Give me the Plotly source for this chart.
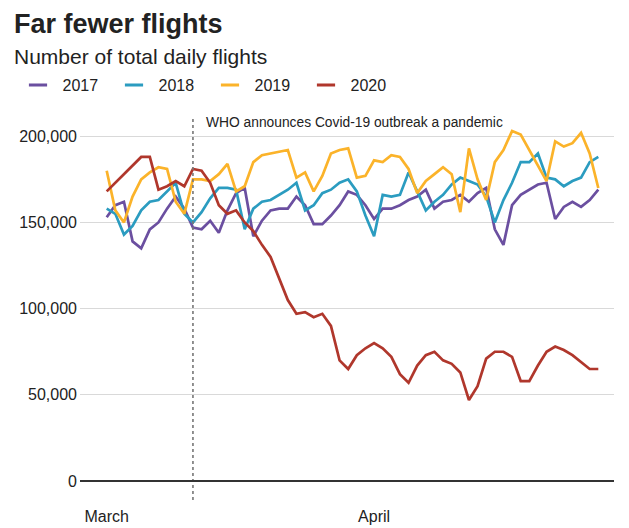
import pandas as pd
import plotly.graph_objects as go

# ---- data (thousands of daily flights), 1 March .. 27 April ----
start_date = "2020-03-01"
n_days = 58
who_date = "2020-03-11"
who_text = "WHO announces Covid-19 outbreak a pandemic"

years = ["2017", "2018", "2019", "2020"]

flights_2017 = [153, 160, 162, 139, 135, 146, 150, 158, 165, 158, 147, 146, 151, 144, 157, 167, 170, 142,
                151, 157, 158, 158, 165, 160, 149, 149, 154, 160, 168, 166, 160, 152, 158, 158, 160, 163,
                165, 169, 158, 162, 163, 166, 162, 167, 170, 146, 137, 160, 166, 169, 172, 173, 152, 159,
                162, 159, 163, 169]
flights_2018 = [158, 155, 143, 148, 157, 162, 163, 168, 173, 155, 150, 156, 164, 170, 170, 169, 146, 158,
                162, 163, 166, 169, 173, 157, 160, 167, 169, 173, 175, 168, 154, 142, 166, 165, 166, 179,
                168, 157, 162, 166, 172, 176, 174, 172, 165, 150, 163, 173, 185, 185, 190, 176, 175, 171,
                174, 176, 185, 188]
flights_2019 = [180, 157, 150, 165, 175, 179, 182, 181, 162, 155, 175, 175, 174, 178, 184, 168, 171, 185,
                189, 190, 191, 192, 176, 179, 168, 177, 190, 192, 193, 176, 177, 186, 185, 189, 188, 181,
                167, 174, 178, 182, 178, 156, 193, 175, 163, 185, 192, 203, 201, 192, 183, 174, 197, 194,
                196, 202, 190, 170]
flights_2020 = [168, 173, 178, 183, 188, 188, 169, 171, 174, 171, 181, 180, 173, 160, 155, 157, 150, 145,
                137, 130, 118, 105, 97, 98, 95, 97, 90, 70, 65, 73, 77, 80, 77, 72, 62, 57,
                67, 73, 75, 70, 68, 63, 47, 55, 71, 75, 75, 72, 58, 58, 67, 75, 78, 76,
                73, 69, 65, 65]

y_ticks = [0, 50000, 100000, 150000, 200000]
y_tick_labels = ["0", "50,000", "100,000", "150,000", "200,000"]
x_ticks = ["2020-03-01", "2020-04-01"]
x_tick_labels = ["March", "April"]

colors = ["#6B4FA0", "#2B9CC0", "#FBB32A", "#B0372C"]

# ---- geometry (page pixels; the page body adds an 8px offset) ----
W, H = 629, 528
OFF = 8
P_LEFT, P_RIGHT, P_TOP, P_BOTTOM = 80, 614, 119, 500
ML = P_LEFT - OFF
MT = P_TOP - OFF
MR = W - (P_RIGHT - OFF)
MB = H - (P_BOTTOM - OFF)
PW = P_RIGHT - P_LEFT
PH = P_BOTTOM - P_TOP


def px_x(px):
    return (px - P_LEFT) / PW


def px_y(py):
    return (P_BOTTOM - py) / PH


dates = pd.date_range(start_date, periods=n_days, freq="D")
series = [flights_2017, flights_2018, flights_2019, flights_2020]
FONT = "Liberation Sans, Arial, Helvetica, sans-serif"

fig = go.Figure()
for yr, vals, col in zip(years, series, colors):
    fig.add_trace(go.Scatter(
        x=dates, y=[v * 1000 for v in vals], mode="lines", name=yr,
        line=dict(color=col, width=2.7), showlegend=False,
    ))
# legend entries (short dash symbols)
for yr, col in zip(years, colors):
    fig.add_trace(go.Scatter(
        x=[None], y=[None], mode="markers", name=yr,
        marker=dict(symbol="line-ew", size=13, color=col, line=dict(color=col, width=3)),
        showlegend=True,
    ))

# WHO vertical dotted line
fig.add_shape(type="line", xref="x", yref="paper", x0=who_date, x1=who_date, y0=0, y1=1,
              line=dict(color="#777777", width=1.6, dash="dot"), layer="above")

x_lo = pd.Timestamp(start_date) - pd.Timedelta(minutes=int(3.096 * 1440))
x_hi = pd.Timestamp(start_date) + pd.Timedelta(minutes=int(58.82 * 1440))

fig.update_layout(
    width=W, height=H,
    margin=dict(l=ML, r=MR, t=MT, b=MB),
    paper_bgcolor="white", plot_bgcolor="white",
    font=dict(family=FONT, color="#222222", size=16),
    showlegend=True,
    legend=dict(orientation="h", xref="container", yref="container",
                x=5.5 / W, y=1 - (85 - OFF) / H, xanchor="left", yanchor="middle",
                font=dict(size=16, color="#222222"), entrywidth=42, itemwidth=39,
                bgcolor="rgba(0,0,0,0)"),
    xaxis=dict(range=[x_lo, x_hi], showgrid=False, zeroline=False, showline=False,
               tickvals=x_ticks, ticktext=x_tick_labels, ticks="", ticklabelstandoff=5,
               tickfont=dict(size=16, color="#222222")),
    yaxis=dict(range=[-11000, 210000], tickvals=y_ticks, ticktext=y_tick_labels,
               showgrid=True, gridcolor="#d9d9d9", gridwidth=1.2, zeroline=False,
               showline=False, ticks="", ticklabelstandoff=2,
               tickfont=dict(size=16, color="#222222")),
    hovermode=False,
)

# zero baseline
fig.add_hline(y=0, line=dict(color="#333333", width=2))

fig.add_annotation(xref="paper", yref="paper", x=px_x(12), y=px_y(24),
                   xanchor="left", yanchor="middle", showarrow=False,
                   text="<b>Far fewer flights</b>", font=dict(size=27, color="#222222"))
fig.add_annotation(xref="paper", yref="paper", x=px_x(12), y=px_y(56),
                   xanchor="left", yanchor="middle", showarrow=False,
                   text="Number of total daily flights", font=dict(size=21, color="#222222"))
fig.add_annotation(xref="x", yref="paper", x=who_date, y=px_y(122),
                   xanchor="left", yanchor="middle", xshift=11, showarrow=False,
                   text=who_text, font=dict(size=13.8, color="#222222"))

fig.write_html("out.html")
